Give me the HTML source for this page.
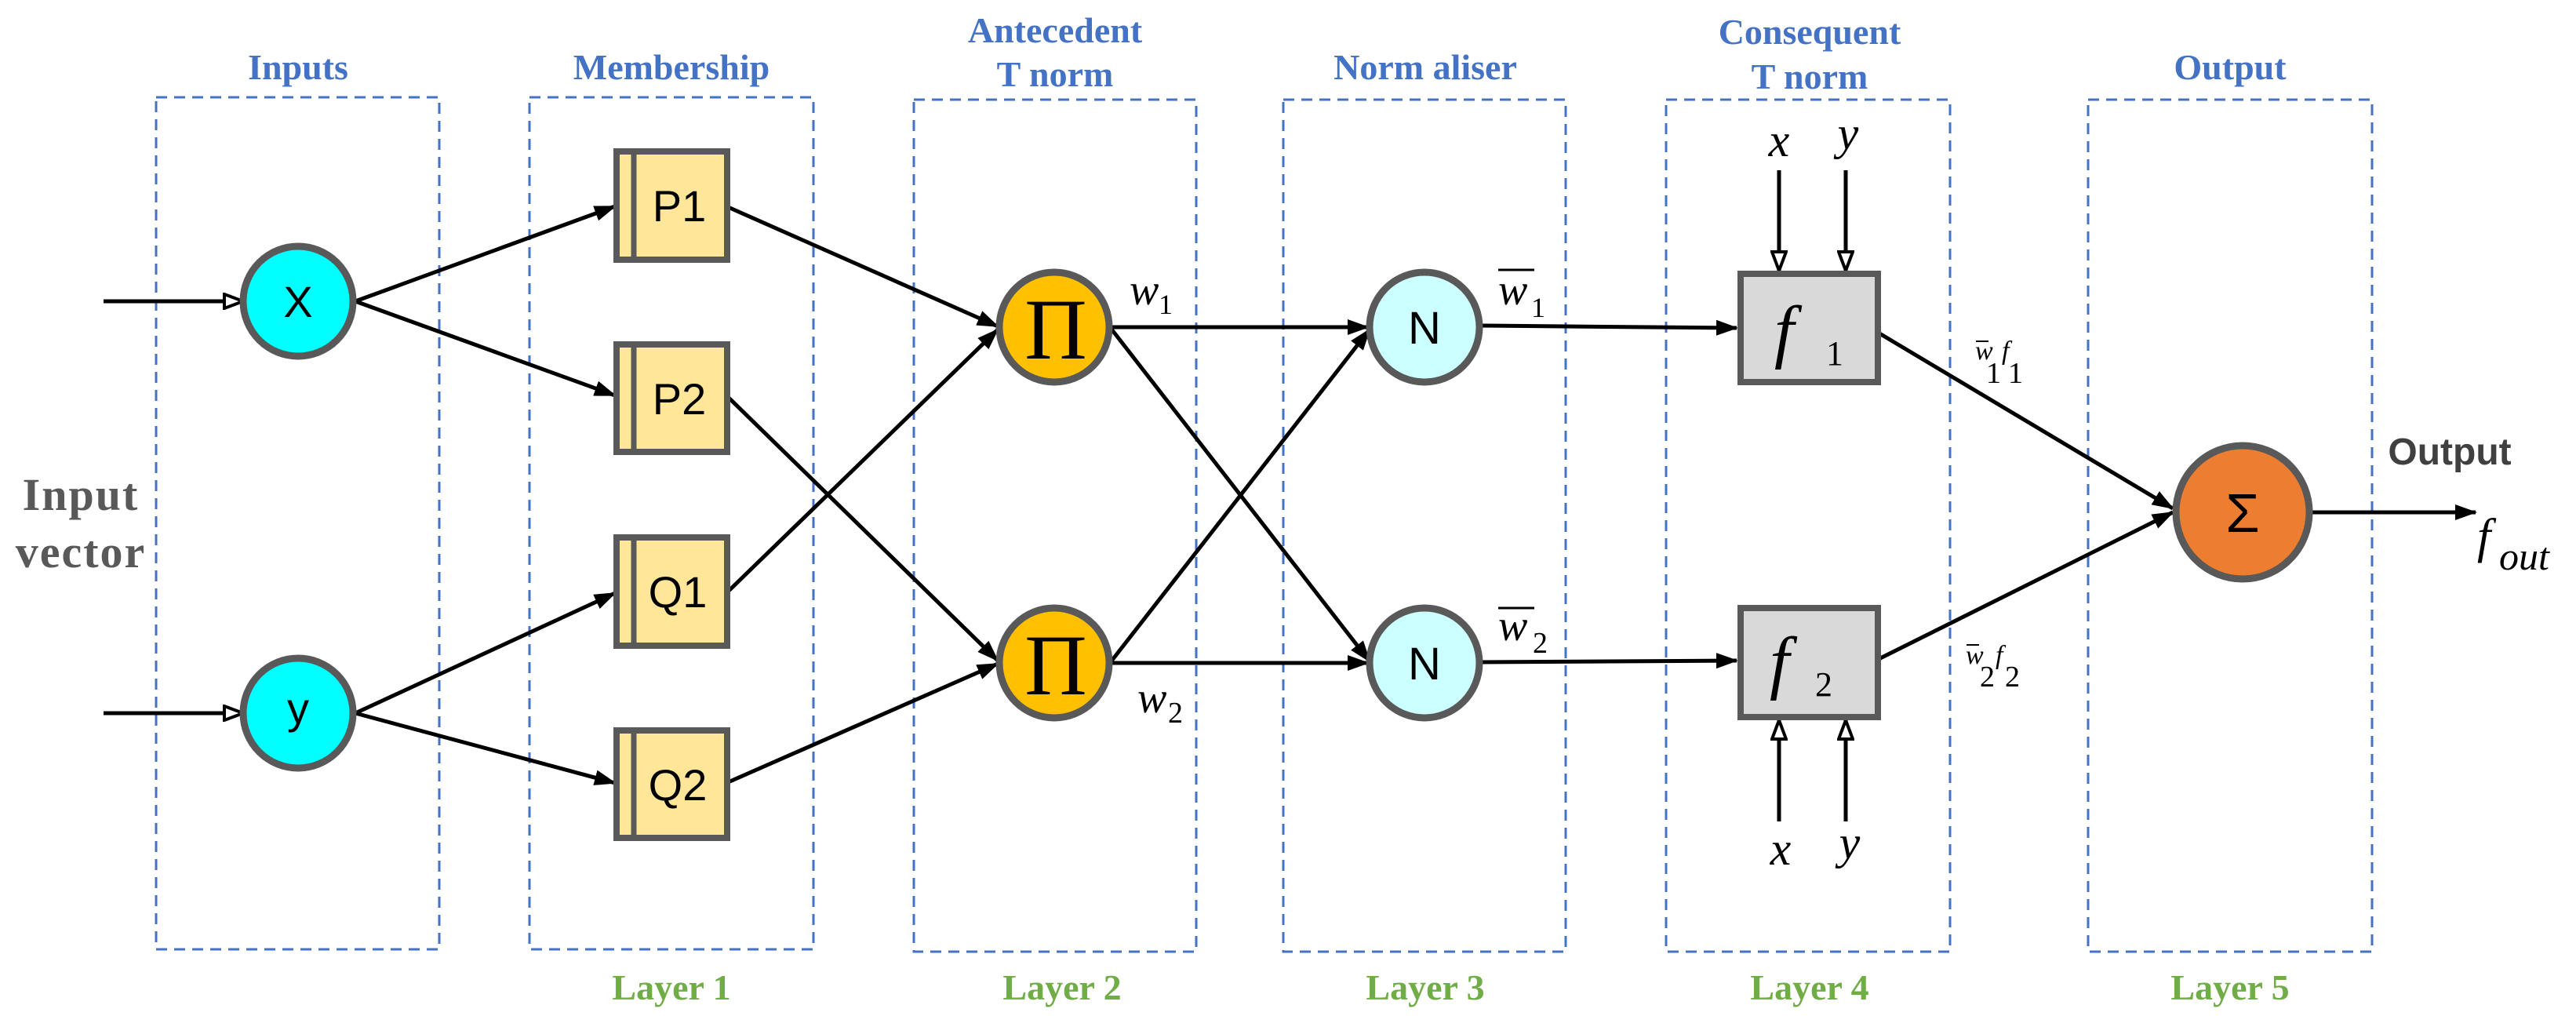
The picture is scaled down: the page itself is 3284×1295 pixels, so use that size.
<!DOCTYPE html>
<html><head><meta charset="utf-8"><style>
html,body{margin:0;padding:0;background:#fff;}
svg{display:block;}
.t{font-family:"Liberation Serif",serif;font-weight:bold;font-size:46px;fill:#4472c4;text-anchor:middle;}
.l{font-family:"Liberation Serif",serif;font-weight:bold;font-size:46px;fill:#70ad47;text-anchor:middle;}
.box{fill:none;stroke:#4472c4;stroke-width:3;stroke-dasharray:14 9;}
.ln{stroke:#000;stroke-width:5;fill:none;}
.s{font-family:"Liberation Sans","DejaVu Sans",sans-serif;font-size:56px;fill:#000;text-anchor:middle;}
.m{font-family:"Liberation Serif",serif;font-style:italic;fill:#000;}
.r{font-family:"Liberation Serif",serif;fill:#000;}
</style></head><body>
<svg width="3284" height="1295" viewBox="0 0 3284 1295" xmlns="http://www.w3.org/2000/svg">
<defs>
<marker id="a" markerWidth="28" markerHeight="20" refX="26" refY="10" orient="auto" markerUnits="userSpaceOnUse">
<path d="M0,0 L28,10 L0,20 Z" fill="#000"/></marker>
<marker id="o" markerWidth="28" markerHeight="22" refX="26" refY="11" orient="auto" markerUnits="userSpaceOnUse">
<path d="M2,2 L26,11 L2,20 Z" fill="#fff" stroke="#000" stroke-width="4"/></marker>
</defs>

<rect class="box" x="199" y="124" width="361" height="1086"/>
<rect class="box" x="675" y="124" width="362" height="1086"/>
<rect class="box" x="1165" y="127" width="360" height="1086"/>
<rect class="box" x="1636" y="127" width="360" height="1086"/>
<rect class="box" x="2124" y="127" width="362" height="1086"/>
<rect class="box" x="2662" y="127" width="362" height="1086"/>

<text class="t" x="380" y="101">Inputs</text>
<text class="t" x="856" y="101">Membership</text>
<text class="t" x="1345" y="54">Antecedent</text>
<text class="t" x="1345" y="110">T norm</text>
<text class="t" x="1817" y="101">Norm aliser</text>
<text class="t" x="2307" y="56">Consequent</text>
<text class="t" x="2307" y="113">T norm</text>
<text class="t" x="2843" y="101">Output</text>

<text class="l" x="856" y="1274">Layer 1</text>
<text class="l" x="1354" y="1274">Layer 2</text>
<text class="l" x="1817" y="1274">Layer 3</text>
<text class="l" x="2307" y="1274">Layer 4</text>
<text class="l" x="2843" y="1274">Layer 5</text>

<text x="103" y="650" style="font-family:'Liberation Serif',serif;font-weight:bold;font-size:58px;fill:#595959;text-anchor:middle;letter-spacing:2px">Input</text>
<text x="103" y="723" style="font-family:'Liberation Serif',serif;font-weight:bold;font-size:58px;fill:#595959;text-anchor:middle;letter-spacing:2px">vector</text>

<line class="ln" x1="132" y1="384" x2="310" y2="384" marker-end="url(#o)"/>
<line class="ln" x1="132" y1="909" x2="310" y2="909" marker-end="url(#o)"/>

<line class="ln" x1="453" y1="384" x2="784" y2="263" marker-end="url(#a)"/>
<line class="ln" x1="453" y1="384" x2="784" y2="504" marker-end="url(#a)"/>
<line class="ln" x1="453" y1="909" x2="784" y2="756" marker-end="url(#a)"/>
<line class="ln" x1="453" y1="909" x2="784" y2="998" marker-end="url(#a)"/>

<line class="ln" x1="926" y1="263" x2="1272" y2="416" marker-end="url(#a)"/>
<line class="ln" x1="926" y1="756" x2="1272" y2="420" marker-end="url(#a)"/>
<line class="ln" x1="926" y1="504" x2="1272" y2="842" marker-end="url(#a)"/>
<line class="ln" x1="926" y1="998" x2="1272" y2="846" marker-end="url(#a)"/>

<line class="ln" x1="1415" y1="417" x2="1744" y2="417" marker-end="url(#a)"/>
<line class="ln" x1="1415" y1="417" x2="1746" y2="843" marker-end="url(#a)"/>
<line class="ln" x1="1415" y1="845" x2="1746" y2="420" marker-end="url(#a)"/>
<line class="ln" x1="1415" y1="845" x2="1744" y2="845" marker-end="url(#a)"/>

<line class="ln" x1="1886" y1="415" x2="2214" y2="418" marker-end="url(#a)"/>
<line class="ln" x1="1886" y1="844" x2="2214" y2="842" marker-end="url(#a)"/>

<line class="ln" x1="2391" y1="422" x2="2770" y2="648" marker-end="url(#a)"/>
<line class="ln" x1="2391" y1="842" x2="2770" y2="653" marker-end="url(#a)"/>
<line class="ln" x1="2947" y1="653" x2="3156" y2="653" marker-end="url(#a)"/>

<line class="ln" x1="2268" y1="217" x2="2268" y2="345" marker-end="url(#o)"/>
<line class="ln" x1="2353" y1="217" x2="2353" y2="345" marker-end="url(#o)"/>
<line class="ln" x1="2268" y1="1047" x2="2268" y2="918" marker-end="url(#o)"/>
<line class="ln" x1="2353" y1="1047" x2="2353" y2="918" marker-end="url(#o)"/>
<text class="m" x="2268" y="199" font-size="60" text-anchor="middle">x</text>
<text class="m" x="2356" y="190" font-size="60" text-anchor="middle">y</text>
<text class="m" x="2270" y="1102" font-size="60" text-anchor="middle">x</text>
<text class="m" x="2358" y="1094" font-size="60" text-anchor="middle">y</text>

<ellipse cx="380" cy="384" rx="70" ry="70" fill="#00ffff" stroke="#595959" stroke-width="9"/>
<ellipse cx="380" cy="909" rx="70" ry="70" fill="#00ffff" stroke="#595959" stroke-width="9"/>
<text class="s" x="380" y="404">X</text>
<text class="s" x="380" y="922">y</text>

<g fill="#ffe699" stroke="#595959" stroke-width="8">
<rect x="786" y="193" width="141" height="138"/>
<rect x="786" y="439" width="141" height="137"/>
<rect x="786" y="685" width="141" height="138"/>
<rect x="786" y="931" width="141" height="137"/>
</g>
<g stroke="#595959" stroke-width="7">
<line x1="808" y1="193" x2="808" y2="331"/>
<line x1="808" y1="439" x2="808" y2="576"/>
<line x1="808" y1="685" x2="808" y2="823"/>
<line x1="808" y1="931" x2="808" y2="1068"/>
</g>
<text class="s" x="866" y="282">P1</text>
<text class="s" x="866" y="528">P2</text>
<text class="s" x="864" y="774">Q1</text>
<text class="s" x="864" y="1020">Q2</text>

<ellipse cx="1344" cy="417" rx="70" ry="70" fill="#ffc000" stroke="#595959" stroke-width="9"/>
<ellipse cx="1344" cy="845" rx="70" ry="70" fill="#ffc000" stroke="#595959" stroke-width="9"/>
<text class="r" x="1346" y="457" font-size="110" text-anchor="middle">Π</text>
<text class="r" x="1346" y="885" font-size="110" text-anchor="middle">Π</text>
<text class="m" x="1440" y="388" font-size="56">w</text><text class="r" x="1477" y="400" font-size="36">1</text>
<text class="m" x="1450" y="908" font-size="56">w</text><text class="r" x="1489" y="921" font-size="38">2</text>

<ellipse cx="1816" cy="417" rx="70" ry="70" fill="#ccffff" stroke="#595959" stroke-width="9"/>
<ellipse cx="1816" cy="845" rx="70" ry="70" fill="#ccffff" stroke="#595959" stroke-width="9"/>
<text class="s" x="1816" y="438" style="font-size:58px">N</text>
<text class="s" x="1816" y="866" style="font-size:58px">N</text>
<text class="m" x="1910" y="388" font-size="56">w</text><text class="r" x="1952" y="404" font-size="36">1</text>
<line x1="1910" y1="344" x2="1956" y2="344" stroke="#000" stroke-width="3"/>
<text class="m" x="1910" y="816" font-size="56">w</text><text class="r" x="1954" y="832" font-size="38">2</text>
<line x1="1910" y1="775" x2="1956" y2="775" stroke="#000" stroke-width="3"/>

<rect x="2219" y="349" width="175" height="138" fill="#d9d9d9" stroke="#595959" stroke-width="8"/>
<rect x="2219" y="775" width="175" height="139" fill="#d9d9d9" stroke="#595959" stroke-width="8"/>
<text class="m" x="2262" y="452" font-size="90">f</text><text class="r" x="2328" y="465" font-size="44">1</text>
<text class="m" x="2256" y="874" font-size="90">f</text><text class="r" x="2314" y="887" font-size="44">2</text>

<text class="m" x="2518" y="458" font-size="34">w</text><text class="r" x="2532" y="488" font-size="38">1</text>
<text class="m" x="2552" y="458" font-size="34">f</text><text class="r" x="2560" y="488" font-size="38">1</text>
<line x1="2519" y1="435" x2="2535" y2="435" stroke="#000" stroke-width="2"/>
<text class="m" x="2506" y="846" font-size="34">w</text><text class="r" x="2524" y="875" font-size="38">2</text>
<text class="m" x="2544" y="846" font-size="34">f</text><text class="r" x="2556" y="875" font-size="38">2</text>
<line x1="2507" y1="822" x2="2523" y2="822" stroke="#000" stroke-width="2"/>

<ellipse cx="2859" cy="653" rx="85" ry="85" fill="#ed7d31" stroke="#595959" stroke-width="9"/>
<text class="s" x="2859" y="678" style="font-size:70px">Σ</text>
<text x="3123" y="592" style="font-family:'Liberation Sans',sans-serif;font-weight:bold;font-size:48px;fill:#404040;text-anchor:middle">Output</text>
<text class="m" x="3158" y="704" font-size="62">f</text>
<text class="m" x="3186" y="726" font-size="50">out</text>
</svg>
</body></html>
